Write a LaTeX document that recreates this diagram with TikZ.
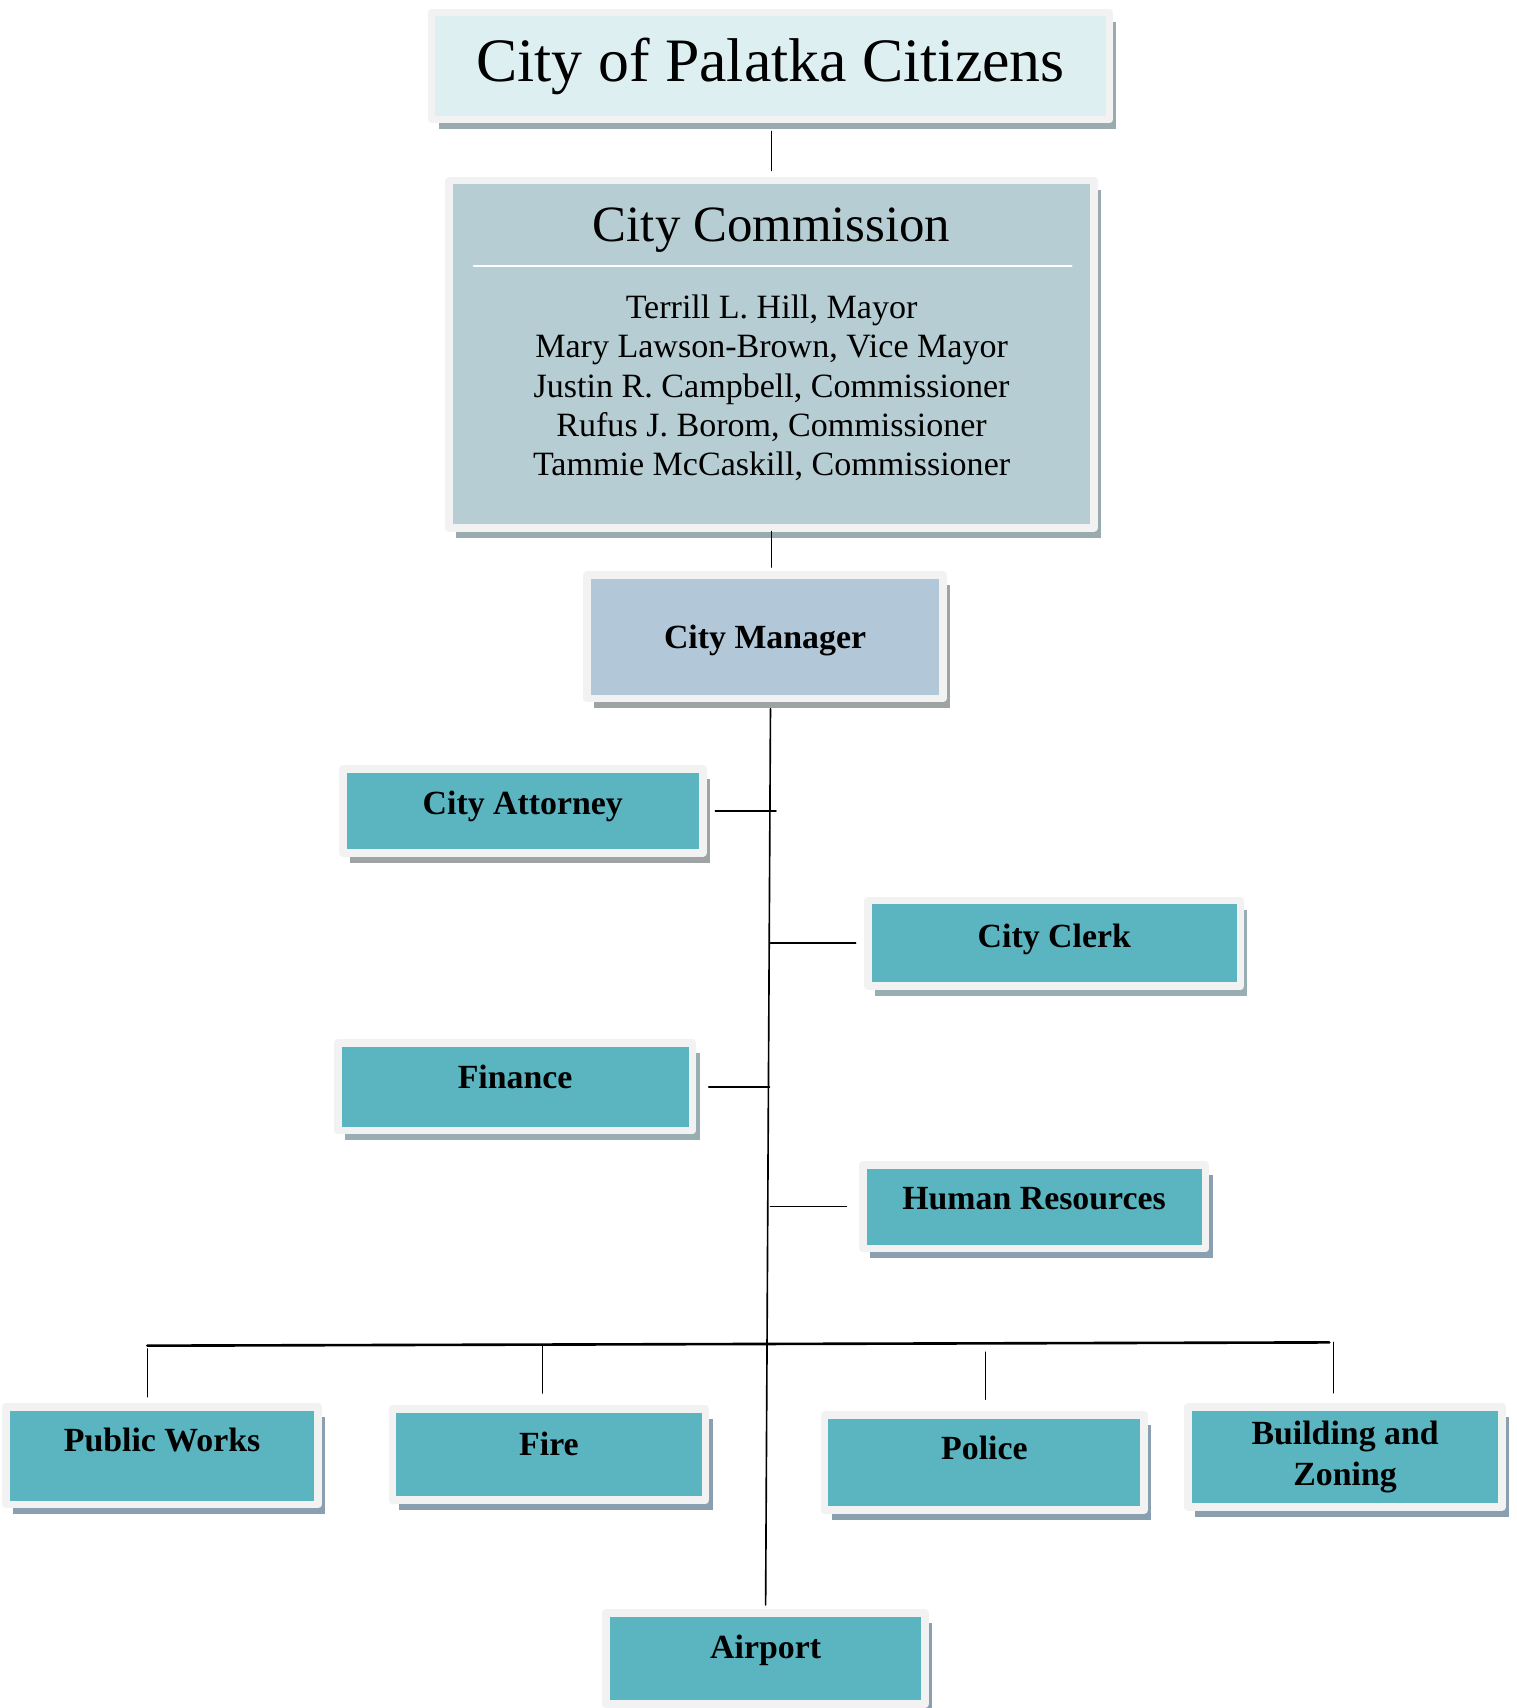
\documentclass[tikz,border=0pt]{standalone}
\usepackage{fontspec}
\setmainfont{Liberation Serif}
\usetikzlibrary{calc,shadows}
\definecolor{framegray}{HTML}{F2F2F2}
\definecolor{paleblue}{HTML}{DEEFF2}
\definecolor{commblue}{HTML}{B6CDD3}
\definecolor{mgrblue}{HTML}{B2C7D8}
\definecolor{deptteal}{HTML}{5AB5C0}
\definecolor{shadowA}{HTML}{9AABB0}
\definecolor{shadowB}{HTML}{9EA3A3}
\definecolor{shadowC}{HTML}{98AEB3}
\definecolor{shadowD}{HTML}{8A9FAF}
\begin{document}
\begin{tikzpicture}[x=0.5pt,y=-0.5pt,line join=round,line cap=round,
	orgbox/.style 2 args={draw=framegray,line width=3.5pt,fill=#1,inner sep=0pt,
		font=\bfseries\fontsize{15.5}{19}\selectfont,
		drop shadow={shadow xshift=3.25pt,shadow yshift=-4.5pt,fill=#2,opacity=1}},
	lift/.style={text height=11pt,text depth=#1},
	link/.style={line width=0.75pt}]
	\useasboundingbox (0,0) rectangle (1390,1565);
	\node[orgbox={paleblue}{shadowA},minimum width=310.5pt,minimum height=49pt,font=\fontsize{28.3}{34}\selectfont] (citizens) at (706,60.5) {City of Palatka Citizens};
	\node[orgbox={commblue}{shadowA},minimum width=295.5pt,minimum height=159pt] (comm) at (707,324.5) {};
	\node[anchor=base,font=\fontsize{23.3}{28}\selectfont] (commtitle) at (707,221) {City Commission};
	\draw[white,line width=0.75pt] (434,244) -- (982,244);
	\node[align=center,font=\fontsize{15.6}{18}\selectfont] (members) at (707,355.5) {Terrill L. Hill, Mayor\\Mary Lawson-Brown, Vice Mayor\\Justin R. Campbell, Commissioner\\Rufus J. Borom, Commissioner\\Tammie McCaskill, Commissioner};
	\node[orgbox={mgrblue}{shadowB},minimum width=163pt,minimum height=56.5pt,lift=0pt] (mgr) at (701,583.4) {City Manager};
	\node[orgbox={deptteal}{shadowB},minimum width=165pt,minimum height=38.5pt,lift=7.6pt] (atty) at (479,743) {City Attorney};
	\node[orgbox={deptteal}{shadowC},minimum width=170.5pt,minimum height=39.25pt,lift=7pt] (clerk) at (966,864.3) {City Clerk};
	\node[orgbox={deptteal}{shadowC},minimum width=162.5pt,minimum height=40pt,lift=9.6pt] (finance) at (472,995.7) {Finance};
	\node[orgbox={deptteal}{shadowD},minimum width=157pt,minimum height=38.35pt,lift=8.2pt] (hr) at (947.5,1105.6) {Human Resources};
	\node[orgbox={deptteal}{shadowD},minimum width=143pt,minimum height=44.6pt,lift=15.1pt] (works) at (148.5,1333.9) {Public Works};
	\node[orgbox={deptteal}{shadowD},minimum width=143.5pt,minimum height=41.8pt,lift=10.3pt] (fire) at (503,1332.7) {Fire};
	\node[orgbox={deptteal}{shadowD},minimum width=146.5pt,minimum height=43.5pt,lift=13.6pt] (police) at (902,1340) {Police};
	\node[orgbox={deptteal}{shadowD},minimum width=144pt,minimum height=45.65pt,align=center] (zoning) at (1232.5,1335) {Building and\\Zoning};
	\node[orgbox={deptteal}{shadowD},minimum width=146pt,minimum height=41.7pt,lift=11.6pt] (airport) at (701.5,1519.8) {Airport};
	\draw[link,shorten <=3.75pt,shorten >=2.9pt] (citizens.south -| comm.north) -- (comm.north);
	\draw[link,shorten >=1.9pt] (comm.south) -- (comm.south |- mgr.north);
	\coordinate (trunktop) at ($(mgr.south)+(5,0)$);
	\draw[link,shorten <=3pt,shorten >=2pt] (trunktop) -- (airport.north);
	\draw[link,shorten <=4pt] (atty.east) -- ($(atty.east -| trunktop)+(5,0)$);
	\draw[link,shorten >=4pt] (clerk.west -| trunktop) -- (clerk.west);
	\draw[link,shorten <=5.75pt] (finance.east) -- ($(finance.east -| trunktop)+(-1,0)$);
	\draw[link,shorten >=5.75pt] (hr.west -| trunktop) -- (hr.west);
	\coordinate (busL) at (135,1233);
	\coordinate (busR) at (1218,1230);
	\draw[line width=1.2pt] (busL) -- (busR);
	\draw[link,shorten <=1.5pt,shorten >=3pt] (busL) -- (busL |- works.north);
	\draw[link,shorten >=5.5pt] ([xshift=-3pt]fire.north |- busL) -- ([xshift=-3pt]fire.north);
	\draw[link,shorten <=3pt,shorten >=5.5pt] ([xshift=0.5pt]police.north |- busL) -- ([xshift=0.5pt]police.north);
	\draw[link,shorten >=4.85pt] ([xshift=-5.25pt]zoning.north |- busR) -- ([xshift=-5.25pt]zoning.north);
\end{tikzpicture}
\end{document}
